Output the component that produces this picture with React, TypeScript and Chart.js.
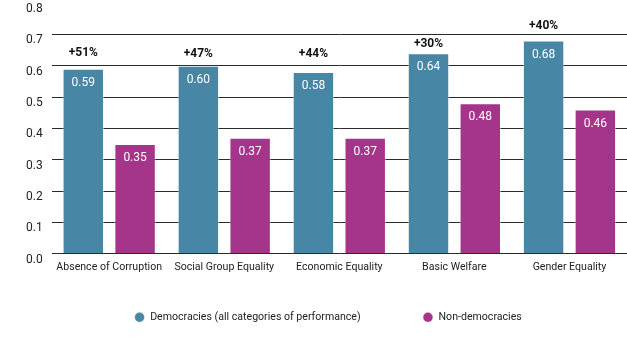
import React, { useEffect, useRef } from "react";
import { Chart, registerables } from "chart.js";

Chart.register(...registerables);

const categories = [
  "Absence of Corruption",
  "Social Group Equality",
  "Economic Equality",
  "Basic Welfare",
  "Gender Equality",
];
const democracies = [0.59, 0.6, 0.58, 0.64, 0.68];
const nonDemocracies = [0.35, 0.37, 0.37, 0.48, 0.46];
const diffLabels = ["+51%", "+47%", "+44%", "+30%", "+40%"];
// vertical level (in data units) at which each difference label sits
const diffLabelLevels = [0.642, 0.636, 0.636, 0.67, 0.728];
const yTicks = [0, 0.1, 0.2, 0.3, 0.4, 0.5, 0.6, 0.7, 0.8];

const BLUE = "#4886a5";
const MAGENTA = "#a4358a";
const FONT = "Roboto, 'Noto Sans', sans-serif";

const labelPlugin = {
  id: "barLabels",
  afterDatasetsDraw(chart: any) {
    const ctx = chart.ctx;
    const yScale = chart.scales.y;
    ctx.save();
    ctx.textAlign = "center";
    ctx.textBaseline = "middle";
    chart.data.datasets.forEach((ds: any, di: number) => {
      const meta = chart.getDatasetMeta(di);
      meta.data.forEach((bar: any, i: number) => {
        const v = ds.data[i] as number;
        ctx.fillStyle = "#ffffff";
        ctx.font = `12px ${FONT}`;
        ctx.fillText(v.toFixed(2), bar.x, bar.y + 14);
        if (di === 0) {
          ctx.fillStyle = "#111111";
          ctx.font = `bold 12px ${FONT}`;
          ctx.fillText(diffLabels[i], bar.x, yScale.getPixelForValue(diffLabelLevels[i]));
        }
      });
    });
    ctx.restore();
  },
};

// keep wide horizontal spacing between legend items while making the legend box compact
const legendTweak = {
  id: "legendTweak",
  afterInit(chart: any) {
    const lg = chart.legend;
    if (!lg) return;
    const origFit = lg.fit.bind(lg);
    lg.fit = function () {
      origFit();
      this.height = 70.5;
    };
    const origDraw = lg.draw.bind(lg);
    lg.draw = function () {
      const c = chart.ctx;
      const oldBottom = this.bottom;
      this.bottom = oldBottom + 60;
      c.save();
      c.translate(6, -30.5);
      try {
        origDraw();
      } finally {
        this.bottom = oldBottom;
      }
      c.restore();
    };
  },
};

export default function App() {
  const ref = useRef<HTMLCanvasElement | null>(null);
  useEffect(() => {
    document.body.style.margin = "0";
    const chart = new Chart(ref.current as HTMLCanvasElement, {
      type: "bar",
      data: {
        labels: categories,
        datasets: [
          {
            label: "Democracies (all categories of performance)",
            data: democracies,
            backgroundColor: BLUE,
            borderColor: "rgba(255,255,255,0.45)",
            borderWidth: 1,
            categoryPercentage: 0.9,
            barPercentage: 0.8,
          },
          {
            label: "Non-democracies",
            data: nonDemocracies,
            backgroundColor: MAGENTA,
            borderColor: "rgba(255,255,255,0.45)",
            borderWidth: 1,
            categoryPercentage: 0.9,
            barPercentage: 0.8,
          },
        ],
      },
      options: {
        animation: false,
        responsive: false,
        maintainAspectRatio: false,
        layout: { padding: { left: 17, right: 0, top: 0, bottom: 0 } },
        plugins: {
          tooltip: { enabled: false },
          legend: {
            position: "bottom",
            labels: {
              usePointStyle: true,
              pointStyle: "circle",
              boxWidth: 11,
              boxHeight: 7,
              padding: 62,
              color: "#222",
              font: { family: FONT, size: 10.6 },
            },
          },
        },
        scales: {
          x: {
            grid: { display: false, drawTicks: false },
            border: { display: false },
            ticks: {
              color: "#222",
              font: { family: FONT, size: 10.6 },
              maxRotation: 0,
              autoSkip: false,
              padding: 7,
            },
          },
          y: {
            min: 0,
            max: 0.8,
            border: { display: false },
            afterBuildTicks: (axis: any) => {
              axis.ticks = yTicks.map((v) => ({ value: v }));
            },
            afterFit: (s: any) => {
              s.paddingTop = 3;
            },
            grid: {
              color: (c: any) =>
                c.tick && Math.abs(c.tick.value - 0.8) < 1e-6 ? "rgba(0,0,0,0)" : "#2a2a2a",
              drawTicks: false,
              lineWidth: 1,
            },
            ticks: {
              color: "#222",
              font: { family: FONT, size: 12 },
              padding: 9,
              align: "start",
              callback: (v: any) => Number(v).toFixed(1),
            },
          },
        },
      },
      plugins: [labelPlugin, legendTweak],
    });
    return () => chart.destroy();
  }, []);
  return (
    <div style={{ width: 627, height: 351 }}>
      <canvas ref={ref} width={627} height={351} style={{ display: "block" }} />
    </div>
  );
}
